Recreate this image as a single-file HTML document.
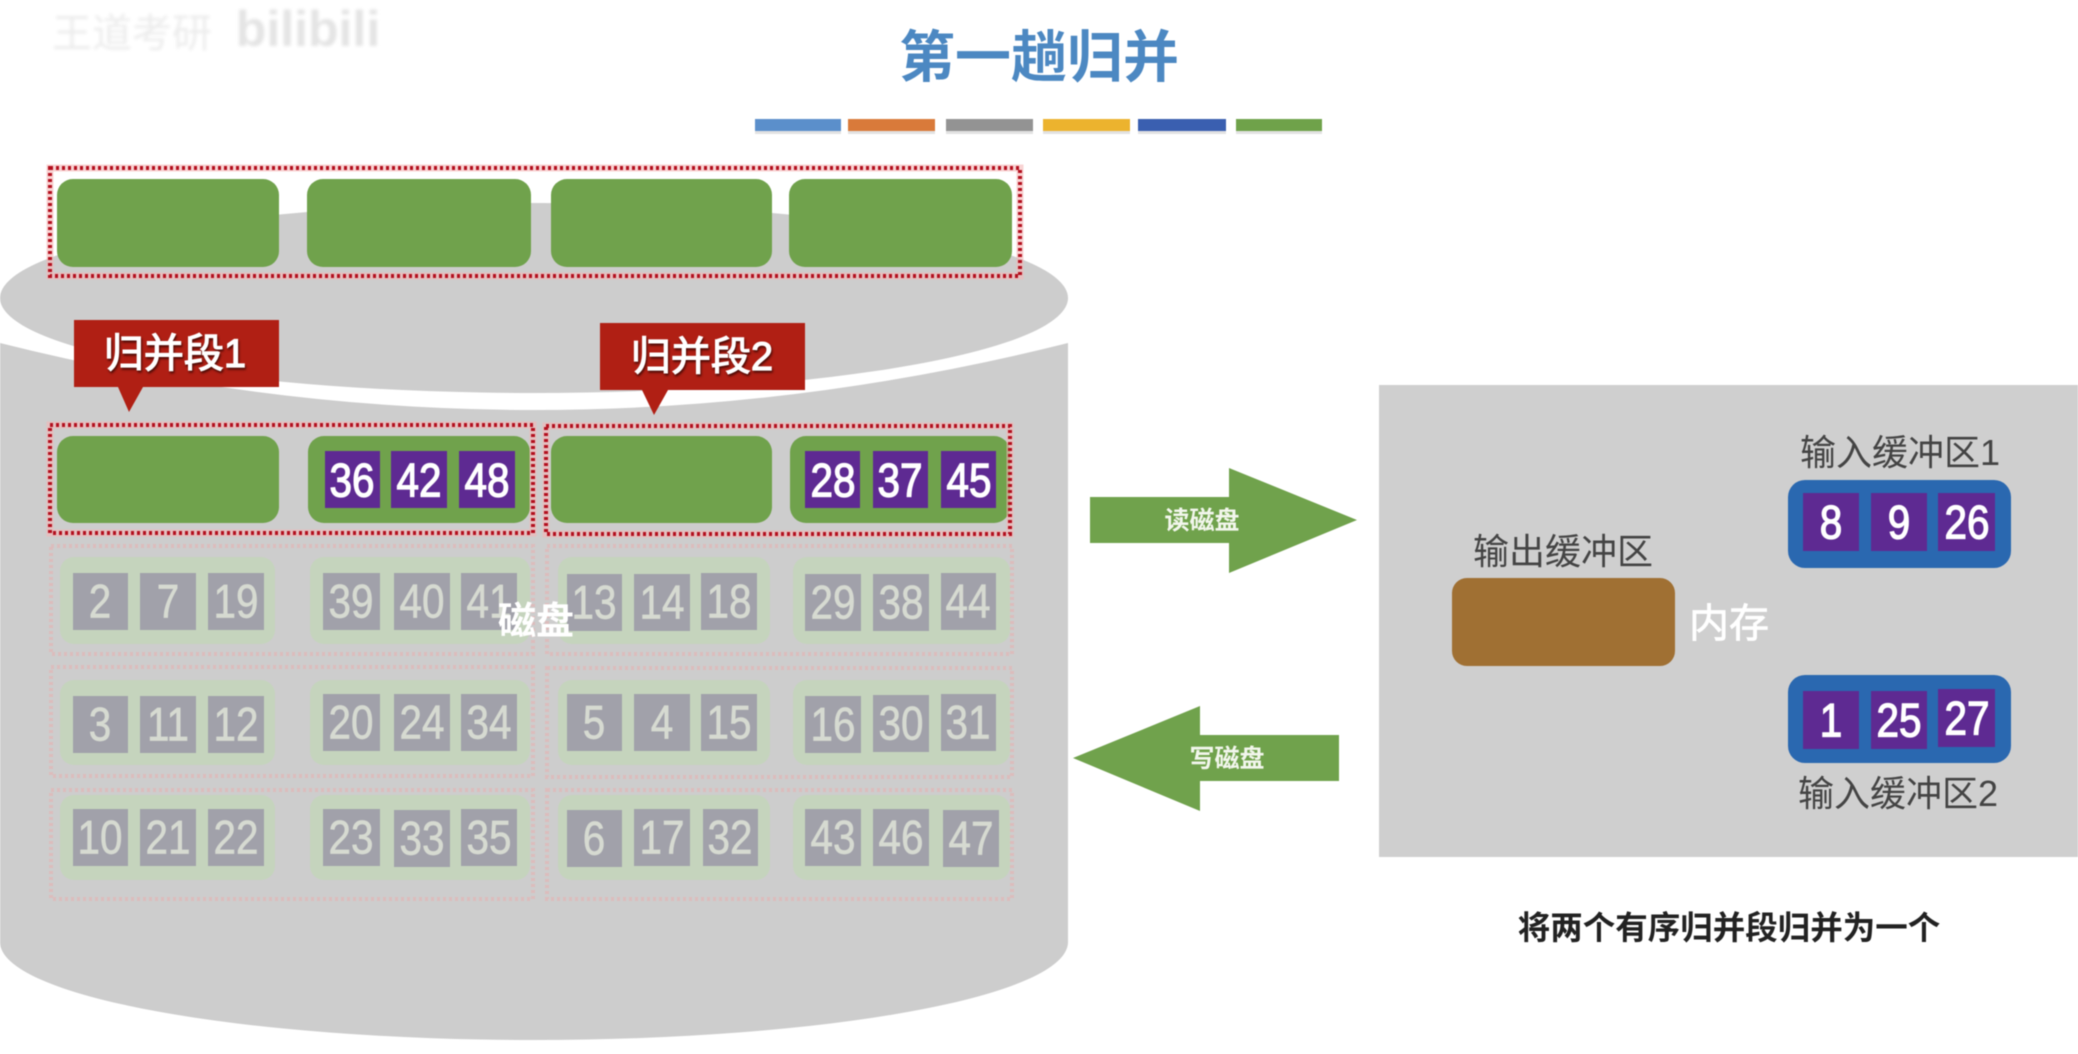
<!DOCTYPE html>
<html><head><meta charset="utf-8"><style>
html,body{margin:0;padding:0;background:#fff;width:2078px;height:1054px;overflow:hidden}
svg{display:block;filter:blur(.5px)}
text{font-family:"Liberation Sans","Noto Sans CJK SC",sans-serif;text-anchor:middle}
.d,.f{transform-box:fill-box;transform-origin:center;transform:scale(.94,1.1)}
.d{font-size:43px;fill:#fff;stroke:#fff;stroke-width:1.2}
.f{font-size:43px;fill:#d6dad1;stroke:#d6dad1;stroke-width:.6}
.p{fill:#5e2a92}
.s{fill:#a1a1aa}
.g{fill:#70a24c}
.lg{fill:#c5d4bd}
.dot{fill:none;stroke:#b3101e;stroke-width:4;stroke-dasharray:3 3}
.halo{fill:none;stroke:#f3b5b5;stroke-width:7;opacity:.6}
.fd{fill:none;stroke:#dcbcbc;stroke-width:4;stroke-dasharray:3 3}
.l{font-size:36px;fill:#444}
.r{font-size:40px;fill:#fff;stroke:#fff;stroke-width:1.2;paint-order:stroke;filter:drop-shadow(1px 2px 1px #4a0a05)}
</style></head><body>
<svg width="2078" height="1054" viewBox="0 0 2078 1054" xmlns="http://www.w3.org/2000/svg">
<defs><filter id="wb"><feGaussianBlur stdDeviation="1.6"/></filter></defs>
<rect width="2078" height="1054" fill="#fff"/>
<!-- watermark -->
<text x="132" y="47" style="font-size:40px;fill:#ececec" filter="url(#wb)">王道考研</text>
<text x="308" y="46" style="font-size:50px;font-weight:bold;fill:#e4e4e4" filter="url(#wb)">bilibili</text>
<!-- title -->
<text x="1039" y="77" style="font-size:56px;font-weight:bold;fill:#4c88c2">第一趟归并</text>
<!-- bars -->
<g>
<rect x="755" y="122" width="86" height="12" fill="#e2e2e2"/><rect x="848" y="122" width="87" height="12" fill="#e2e2e2"/><rect x="946" y="122" width="87" height="12" fill="#e2e2e2"/><rect x="1043" y="122" width="87" height="12" fill="#e2e2e2"/><rect x="1138" y="122" width="88" height="12" fill="#e2e2e2"/><rect x="1236" y="122" width="86" height="12" fill="#e2e2e2"/>
<rect x="755" y="119" width="86" height="12" fill="#5b8fcb"/>
<rect x="848" y="119" width="87" height="12" fill="#d97a3a"/>
<rect x="946" y="119" width="87" height="12" fill="#939393"/>
<rect x="1043" y="119" width="87" height="12" fill="#ecb32e"/>
<rect x="1138" y="119" width="88" height="12" fill="#3a5fb0"/>
<rect x="1236" y="119" width="86" height="12" fill="#6fa24a"/>
</g>
<!-- disk -->
<ellipse cx="534" cy="298" rx="534" ry="95" fill="#cdcdcd"/>
<path d="M0 343 Q534 477 1068 343 L1068 942 A534 98 0 0 1 0 942 Z" fill="#cdcdcd"/>
<!-- top row -->
<rect x="57" y="179" width="222" height="88" rx="16" class="g"/>
<rect x="307" y="179" width="224" height="88" rx="16" class="g"/>
<rect x="551" y="179" width="221" height="88" rx="16" class="g"/>
<rect x="789" y="179" width="223" height="88" rx="16" class="g"/>
<rect x="50" y="168" width="970" height="108" class="halo"/>
<rect x="50" y="168" width="970" height="108" class="dot"/>
<!-- ribbons -->
<path d="M74 320H279V387H143L129 412 118 387H74Z" fill="#b01f14"/>
<text x="175" y="367" class="r">归并段1</text>
<path d="M600 323H805V390H668L654 415 642 390H600Z" fill="#b01f14"/>
<text x="702" y="370" class="r">归并段2</text>
<!-- row 1 -->
<rect x="57" y="436" width="222" height="87" rx="16" class="g"/>
<rect x="308" y="436" width="222" height="87" rx="16" class="g"/>
<rect x="551" y="436" width="221" height="87" rx="16" class="g"/>
<rect x="790" y="436" width="220" height="87" rx="16" class="g"/>
<rect x="50" y="425" width="483" height="108" class="halo"/>
<rect x="546" y="426" width="464" height="108" class="halo"/>
<rect x="50" y="425" width="483" height="108" class="dot"/>
<rect x="546" y="426" width="464" height="108" class="dot"/>
<rect x="325" y="451" width="55" height="57" class="p"/><rect x="391" y="451" width="56" height="57" class="p"/><rect x="459" y="451" width="56" height="57" class="p"/>
<rect x="805" y="451" width="55" height="57" class="p"/><rect x="873" y="451" width="55" height="57" class="p"/><rect x="941" y="451" width="55" height="57" class="p"/>
<text x="352" y="495" class="d">36</text><text x="419" y="495" class="d">42</text><text x="487" y="495" class="d">48</text>
<text x="833" y="495" class="d">28</text><text x="900" y="495" class="d">37</text><text x="969" y="495" class="d">45</text>
<!-- faded row 2 -->
<rect x="51" y="546" width="482" height="108" class="fd"/><rect x="547" y="546" width="465" height="108" class="fd"/>
<rect x="60" y="557" width="215" height="87" rx="14" class="lg"/><rect x="310" y="557" width="220" height="87" rx="14" class="lg"/><rect x="558" y="557" width="212" height="87" rx="14" class="lg"/><rect x="793" y="557" width="217" height="87" rx="14" class="lg"/>
<rect x="73" y="573" width="55" height="57" class="s"/><rect x="140" y="573" width="56" height="57" class="s"/><rect x="208" y="573" width="56" height="57" class="s"/><rect x="323" y="573" width="57" height="57" class="s"/><rect x="394" y="573" width="56" height="57" class="s"/><rect x="461" y="573" width="56" height="57" class="s"/><rect x="567" y="574" width="55" height="57" class="s"/><rect x="634" y="574" width="56" height="57" class="s"/><rect x="701" y="573" width="56" height="57" class="s"/><rect x="805" y="574" width="56" height="57" class="s"/><rect x="873" y="574" width="56" height="57" class="s"/><rect x="941" y="573" width="55" height="57" class="s"/>
<text x="100" y="616" class="f">2</text><text x="168" y="616" class="f">7</text><text x="236" y="616" class="f">19</text><text x="351" y="616" class="f">39</text><text x="422" y="616" class="f">40</text><text x="489" y="616" class="f">41</text><text x="594" y="617" class="f">13</text><text x="662" y="617" class="f">14</text><text x="729" y="616" class="f">18</text><text x="833" y="617" class="f">29</text><text x="901" y="617" class="f">38</text><text x="968" y="616" class="f">44</text>
<!-- faded row 3 -->
<rect x="51" y="667" width="482" height="109" class="fd"/><rect x="547" y="668" width="465" height="109" class="fd"/>
<rect x="60" y="680" width="215" height="85" rx="14" class="lg"/><rect x="310" y="680" width="220" height="85" rx="14" class="lg"/><rect x="558" y="680" width="212" height="85" rx="14" class="lg"/><rect x="793" y="680" width="217" height="85" rx="14" class="lg"/>
<rect x="73" y="696" width="55" height="57" class="s"/><rect x="140" y="696" width="56" height="57" class="s"/><rect x="208" y="696" width="56" height="57" class="s"/><rect x="323" y="694" width="57" height="57" class="s"/><rect x="394" y="694" width="56" height="57" class="s"/><rect x="461" y="694" width="56" height="57" class="s"/><rect x="567" y="694" width="55" height="57" class="s"/><rect x="634" y="694" width="56" height="57" class="s"/><rect x="701" y="694" width="56" height="57" class="s"/><rect x="805" y="696" width="56" height="57" class="s"/><rect x="873" y="695" width="56" height="57" class="s"/><rect x="941" y="694" width="55" height="57" class="s"/>
<text x="100" y="739" class="f">3</text><text x="168" y="739" class="f">11</text><text x="236" y="739" class="f">12</text><text x="351" y="737" class="f">20</text><text x="422" y="737" class="f">24</text><text x="489" y="737" class="f">34</text><text x="594" y="737" class="f">5</text><text x="662" y="737" class="f">4</text><text x="729" y="737" class="f">15</text><text x="833" y="739" class="f">16</text><text x="901" y="738" class="f">30</text><text x="968" y="737" class="f">31</text>
<!-- faded row 4 -->
<rect x="51" y="790" width="482" height="109" class="fd"/><rect x="547" y="790" width="465" height="109" class="fd"/>
<rect x="60" y="795" width="215" height="85" rx="14" class="lg"/><rect x="310" y="795" width="220" height="85" rx="14" class="lg"/><rect x="558" y="795" width="212" height="85" rx="14" class="lg"/><rect x="793" y="795" width="217" height="85" rx="14" class="lg"/>
<rect x="73" y="809" width="55" height="57" class="s"/><rect x="140" y="809" width="56" height="57" class="s"/><rect x="208" y="809" width="56" height="57" class="s"/><rect x="323" y="809" width="57" height="57" class="s"/><rect x="394" y="810" width="56" height="57" class="s"/><rect x="461" y="809" width="56" height="57" class="s"/><rect x="567" y="810" width="55" height="57" class="s"/><rect x="634" y="809" width="56" height="57" class="s"/><rect x="703" y="809" width="55" height="57" class="s"/><rect x="805" y="809" width="56" height="57" class="s"/><rect x="873" y="809" width="56" height="57" class="s"/><rect x="943" y="810" width="56" height="57" class="s"/>
<text x="100" y="852" class="f">10</text><text x="168" y="852" class="f">21</text><text x="236" y="852" class="f">22</text><text x="351" y="852" class="f">23</text><text x="422" y="853" class="f">33</text><text x="489" y="852" class="f">35</text><text x="594" y="853" class="f">6</text><text x="662" y="852" class="f">17</text><text x="730" y="852" class="f">32</text><text x="833" y="852" class="f">43</text><text x="901" y="852" class="f">46</text><text x="971" y="853" class="f">47</text>
<text x="536" y="634" style="font-size:38px;fill:#fff;font-weight:bold">磁盘</text>
<!-- arrows -->
<path d="M1090 497H1229V468L1357 520 1229 573V543H1090Z" fill="#70a24c"/>
<text x="1202" y="529" style="font-size:25px;font-weight:bold;fill:#f2f6ec">读磁盘</text>
<path d="M1339 735H1200V706L1073 758 1200 811V781H1339Z" fill="#70a24c"/>
<text x="1227" y="767" style="font-size:25px;font-weight:bold;fill:#f2f6ec">写磁盘</text>
<!-- memory -->
<rect x="1379" y="385" width="699" height="472" fill="#cfcfcf"/>
<text x="1563" y="564" class="l">输出缓冲区</text>
<rect x="1452" y="578" width="223" height="88" rx="15" fill="#a07033"/>
<text x="1729" y="637" style="font-size:40px;fill:#fff;stroke:#fff;stroke-width:.8">内存</text>
<text x="1900" y="465" class="l">输入缓冲区1</text>
<rect x="1788" y="480" width="223" height="88" rx="17" fill="#2a68b0"/>
<rect x="1803" y="493" width="56" height="58" class="p"/><rect x="1871" y="493" width="56" height="58" class="p"/><rect x="1938" y="493" width="57" height="58" class="p"/>
<text x="1831" y="537" class="d">8</text><text x="1899" y="537" class="d">9</text><text x="1967" y="537" class="d">26</text>
<rect x="1788" y="675" width="223" height="88" rx="17" fill="#2a68b0"/>
<rect x="1803" y="691" width="56" height="58" class="p"/><rect x="1871" y="691" width="56" height="58" class="p"/><rect x="1938" y="689" width="57" height="58" class="p"/>
<text x="1831" y="735" class="d">1</text><text x="1899" y="735" class="d">25</text><text x="1967" y="733" class="d">27</text>
<text x="1898" y="806" class="l">输入缓冲区2</text>
<text x="1729" y="939" style="font-size:32.5px;font-weight:bold;fill:#222">将两个有序归并段归并为一个</text>
</svg>
</body></html>
